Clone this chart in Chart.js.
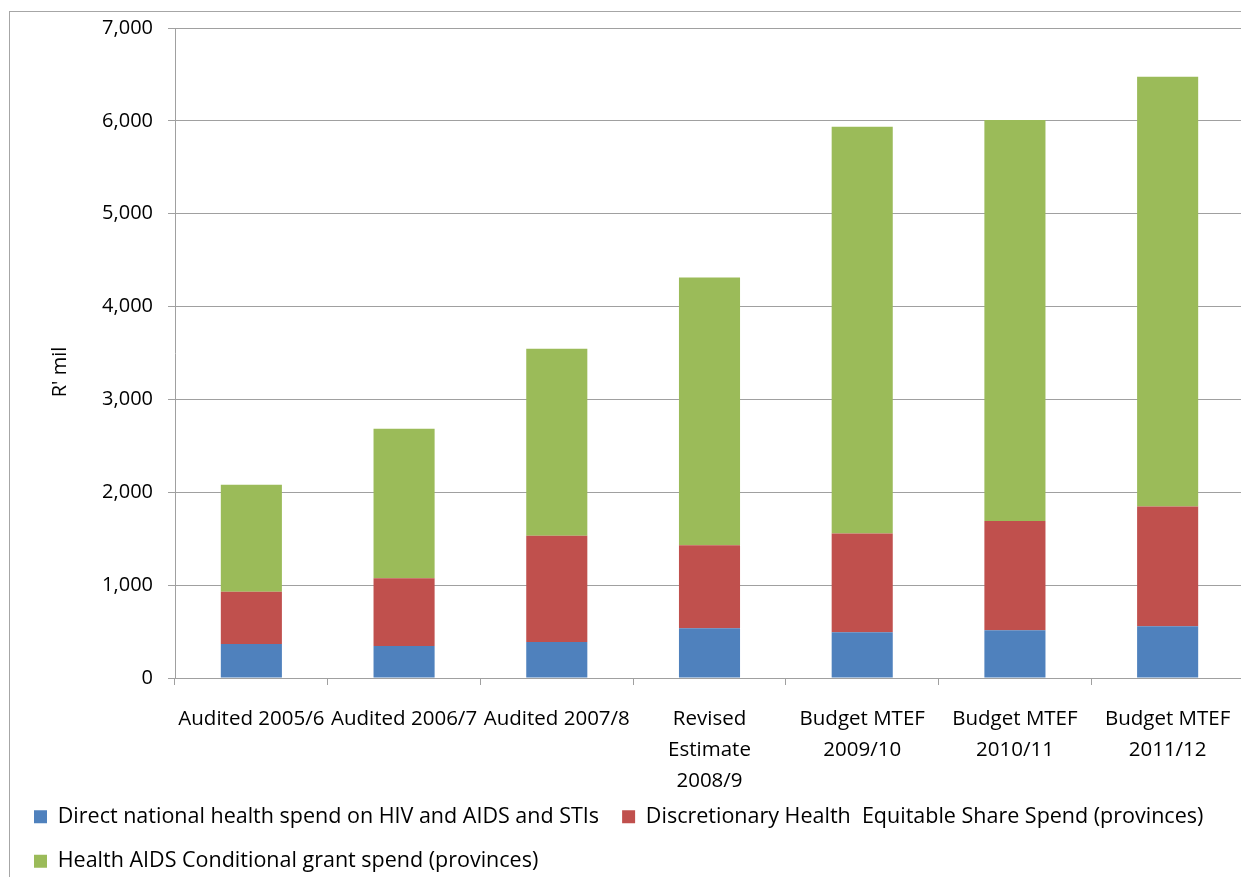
<!DOCTYPE html>
<html>
<head>
<meta charset="utf-8">
<script src="https://cdn.jsdelivr.net/npm/chart.js@4/dist/chart.umd.min.js"></script>
<style>
  html, body { margin: 0; padding: 0; background: #fff; overflow: hidden; }
  #wrap { width: 1250px; height: 882px; }
</style>
</head>
<body>
<div id="wrap"><canvas id="c" width="1250" height="882"></canvas></div>
<script>
// Categories (financial years)
const categories = [
  ['Audited 2005/6'],
  ['Audited 2006/7'],
  ['Audited 2007/8'],
  ['Revised', 'Estimate', '2008/9'],
  ['Budget MTEF', '2009/10'],
  ['Budget MTEF', '2010/11'],
  ['Budget MTEF', '2011/12']
];

// Series values, R' million
const directNational = [366, 345, 388, 535, 492, 514, 557];
const discretionaryShare = [564, 729, 1145, 895, 1063, 1178, 1289];
const conditionalGrant = [1150, 1609, 2012, 2884, 4382, 4317, 4630];

const seriesNames = [
  'Direct national health spend on HIV and AIDS and STIs',
  'Discretionary Health  Equitable Share Spend (provinces)',
  'Health AIDS Conditional grant spend (provinces)'
];

const yTicks = { min: 0, max: 7000, step: 1000 };
const yTitle = "R' mil";

const FONT = '"Open Sans", Lato, sans-serif';
const GRID = '#a0a0a0';

// Outer frame and rotated value-axis title
const decorations = {
  id: 'decorations',
  beforeDraw(chart) {
    const ctx = chart.ctx;
    ctx.save();
    ctx.fillStyle = '#fff';
    ctx.fillRect(0, 0, chart.width, chart.height);
    ctx.strokeStyle = '#a6a6a6';
    ctx.lineWidth = 1;
    ctx.strokeRect(9.5, 11.5, chart.width + 20, chart.height + 20);
    ctx.restore();
  },
  afterDraw(chart) {
    const ctx = chart.ctx;
    ctx.save();
    ctx.translate(60, 372);
    ctx.rotate(-Math.PI / 2);
    ctx.font = '20px ' + FONT;
    ctx.fillStyle = '#000';
    ctx.textAlign = 'center';
    ctx.textBaseline = 'middle';
    ctx.fillText(yTitle, 0, 0);
    ctx.restore();
  }
};

new Chart(document.getElementById('c'), {
  type: 'bar',
  data: {
    labels: categories,
    datasets: [
      { label: seriesNames[0], data: directNational, backgroundColor: '#4F81BD' },
      { label: seriesNames[1], data: discretionaryShare, backgroundColor: '#C0504D' },
      { label: seriesNames[2], data: conditionalGrant, backgroundColor: '#9BBB59' }
    ]
  },
  options: {
    responsive: false,
    animation: false,
    devicePixelRatio: 1,
    datasets: { bar: { categoryPercentage: 1, barPercentage: 0.4 } },
    layout: { padding: { left: 11, top: 28, right: 6, bottom: 0 } },
    plugins: {
      tooltip: { enabled: false },
      legend: {
        position: 'bottom',
        align: 'start',
        labels: {
          boxWidth: 13,
          boxHeight: 13,
          padding: 23,
          color: '#000',
          font: { family: FONT, size: 21.5 }
        }
      }
    },
    scales: {
      x: {
        stacked: true,
        grid: { drawOnChartArea: false, drawTicks: true, tickLength: 7, color: GRID },
        border: { color: GRID },
        ticks: {
          autoSkip: false,
          maxRotation: 0,
          minRotation: 0,
          padding: 19,
          color: '#000',
          font: { family: FONT, size: 20.5, lineHeight: 1.51 }
        },
        afterFit(scale) {
          scale.height = 105;
          // let the wrapped category labels run below the axis box
          scale._computeLabelArea = () => undefined;
        }
      },
      y: {
        stacked: true,
        min: yTicks.min,
        max: yTicks.max,
        grid: { color: GRID, tickLength: 7 },
        border: { color: GRID },
        ticks: {
          stepSize: yTicks.step,
          padding: 15,
          color: '#000',
          font: { family: FONT, size: 20 }
        },
        afterFit(scale) { scale.width = 164; }
      }
    }
  },
  plugins: [decorations]
});
</script>
</body>
</html>
